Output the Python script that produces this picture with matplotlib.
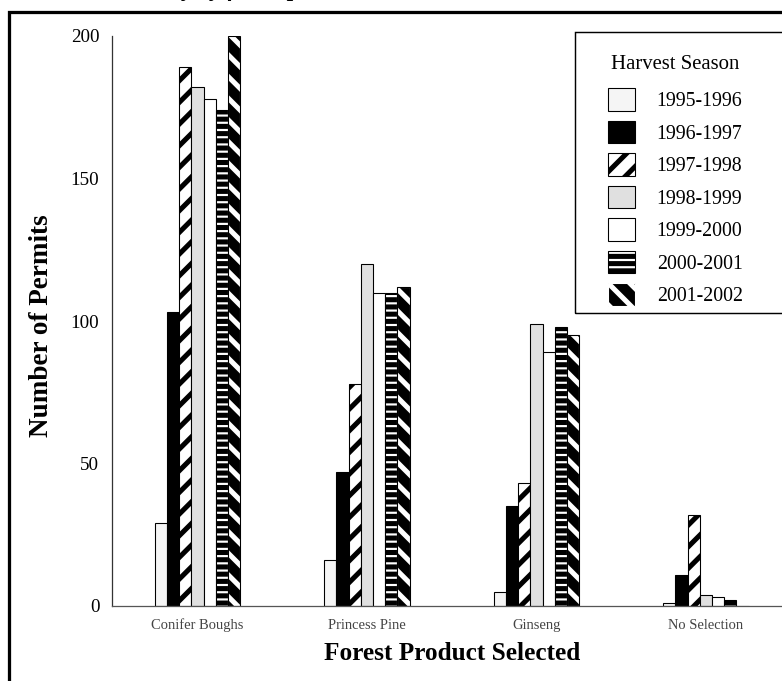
import matplotlib
matplotlib.use("Agg")
import matplotlib.pyplot as plt
import numpy as np
from matplotlib.patches import Rectangle

# permits per forest product, one list per harvest season
categories = ["Conifer Boughs", "Princess Pine", "Ginseng", "No Selection"]
seasons = ["1995-1996", "1996-1997", "1997-1998", "1998-1999",
           "1999-2000", "2000-2001", "2001-2002"]
s1995 = [29, 16, 5, 1]
s1996 = [103, 47, 35, 11]
s1997 = [189, 78, 43, 32]
s1998 = [182, 120, 99, 4]
s1999 = [178, 110, 89, 3]
s2000 = [174, 110, 98, 2]
s2001 = [200, 112, 95, 0]
series = [s1995, s1996, s1997, s1998, s1999, s2000, s2001]
yticks = [0, 50, 100, 150, 200]

plt.rcParams['font.family'] = ['Liberation Serif', 'DejaVu Serif']
plt.rcParams['hatch.linewidth'] = 2.8

W, H, DPI = 782, 681, 130
fig = plt.figure(figsize=(W / DPI, H / DPI), dpi=DPI)
fig.patch.set_facecolor('white')

# axes in pixel terms: left spine x=112, baseline y=606, top (200) y=36
ax = fig.add_axes([112 / W, (H - 606) / H, (800 - 112) / W, 570 / H])

styles = [
    dict(facecolor='#f5f5f5', edgecolor='black'),
    dict(facecolor='black', edgecolor='black'),
    dict(facecolor='white', edgecolor='black', hatch='//'),
    dict(facecolor='#e0e0e0', edgecolor='black'),
    dict(facecolor='white', edgecolor='black'),
    dict(facecolor='white', edgecolor='black', hatch='---'),
    dict(facecolor='black', edgecolor='white', hatch='\\\\'),
]

x = np.arange(len(categories))
width = 0.072
handles = []
for i, (vals, st) in enumerate(zip(series, styles)):
    pos = x + (i - 3) * width
    b = ax.bar(pos, vals, width, label=seasons[i], linewidth=0.6, **st)
    handles.append(b)
    if st['edgecolor'] == 'white':
        ax.bar(pos, vals, width, fill=False, edgecolor='black', linewidth=0.6)

ax.set_xlim(-0.504, 3.555)
ax.set_ylim(0, 200)
ax.set_yticks(yticks)
ax.set_xticks(x)
ax.set_xticklabels(categories, fontsize=8, color='#444444')
ax.tick_params(axis='x', length=0, pad=7)
ax.tick_params(axis='y', length=0, pad=7, labelsize=10.5)
for s in ['top', 'right']:
    ax.spines[s].set_visible(False)
ax.spines['left'].set_linewidth(0.7)
ax.spines['bottom'].set_linewidth(0.7)
ax.spines['left'].set_color('#333333')
ax.spines['bottom'].set_color('#555555')

fig.text(452 / W, 1 - 653 / H, "Forest Product Selected", ha='center', va='center',
         fontsize=14, fontweight='bold')
fig.text(42 / W, 1 - 326 / H, "Number of Permits", ha='center', va='center',
         rotation=90, fontsize=15, fontweight='bold')

# legend, drawn without frame; the box is a separate rectangle
leg = ax.legend(handles=handles, title="Harvest Season", frameon=False,
                loc='upper left', bbox_to_anchor=(608 / W, 1 - 55 / H),
                bbox_transform=fig.transFigure, borderpad=0, borderaxespad=0,
                fontsize=11, title_fontsize=11.5, handlelength=1.35,
                handleheight=1.35, labelspacing=0.49, handletextpad=1.1)
leg._legend_box.sep = 8
fig.add_artist(Rectangle((575 / W, 1 - 313 / H), (820 - 575) / W, (313 - 32) / H,
                         transform=fig.transFigure, fill=False,
                         edgecolor='black', linewidth=0.8))

# outer frame of the scanned figure
fig.add_artist(Rectangle((9 / W, -0.1), 1.2, 1.1 - 12 / H, transform=fig.transFigure,
                         fill=False, edgecolor='black', linewidth=1.8))

# caption text cut off at the top of the page
fig.text(100 / W, 1 + 4 / H, "Summary by forest product", ha='left', va='baseline',
         fontsize=13, fontweight='bold', style='italic')

fig.savefig("out.png", dpi=DPI)
